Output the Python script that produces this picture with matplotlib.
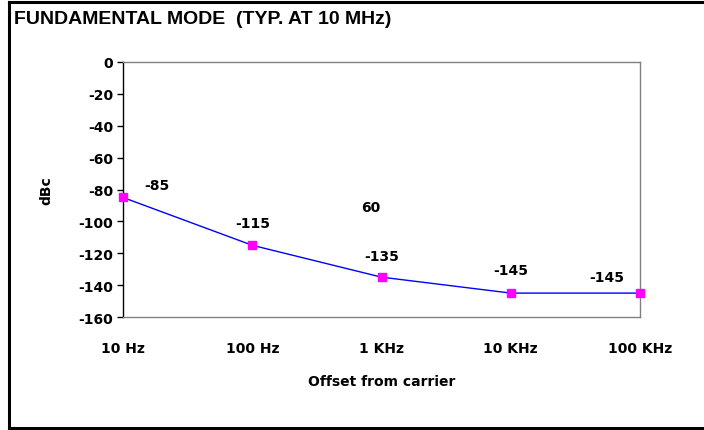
import matplotlib

matplotlib.use("Agg")
import matplotlib.pyplot as plt
from matplotlib.lines import Line2D

plt.rcParams["font.family"] = ["DejaVu Sans"]

offsets = ["10 Hz", "100 Hz", "1 KHz", "10 KHz", "100 KHz"]
dbc = [-85, -115, -135, -145, -145]
# label offsets in pixels (manually placed in the original)
label_dx = [34, 1, 0, 0, -33]
label_dy = [12, 22, 21, 23, 16]
y_ticks = list(range(0, -161, -20))

fig = plt.figure(figsize=(7.04, 4.31), dpi=100)
ax = fig.add_axes([123 / 704, 1 - 318 / 431, (640 - 123) / 704, (318 - 63) / 431])

xs = list(range(len(offsets)))
ax.plot(xs, dbc, color="#0000ff", linewidth=1.0, zorder=2)
ax.plot(xs, dbc, linestyle="none", marker="s", markersize=6,
        color="#ff00ff", zorder=3, clip_on=False)

for x, y, dx, dy in zip(xs, dbc, label_dx, label_dy):
    ax.annotate(str(y), (x, y), xytext=(dx * 0.72, dy * 0.72),
                textcoords="offset points", ha="center", va="center",
                fontsize=10, fontweight="bold")

# stray label left in the original sheet
ax.text(0.48, 0.43, "60", transform=ax.transAxes, ha="center", va="center",
        fontsize=10, fontweight="bold")

ax.set_xlim(0, len(offsets) - 1)
ax.set_ylim(-160, 0)
ax.set_xticks(xs)
ax.set_xticklabels(offsets, fontsize=10, fontweight="bold")
ax.set_yticks(y_ticks)
ax.set_yticklabels([str(t) for t in y_ticks], fontsize=10, fontweight="bold")
ax.tick_params(axis="x", length=0, pad=17)
ax.tick_params(axis="y", length=4, width=1, direction="out", pad=3)

for side in ["top", "right", "bottom"]:
    ax.spines[side].set_color("#808080")
    ax.spines[side].set_linewidth(1)
ax.spines["left"].set_color("black")
ax.spines["left"].set_linewidth(1)

ax.set_xlabel("Offset from carrier", fontsize=10, fontweight="bold", labelpad=14)
ax.set_ylabel("dBc", fontsize=10, fontweight="bold", labelpad=18)

fig.text(14 / 704, 1 - 19 / 431, "FUNDAMENTAL MODE  (TYP. AT 10 MHz)",
         fontsize=14, fontweight="bold", family=["Liberation Sans", "DejaVu Sans"],
         ha="left", va="center")

# outer frame
W, H = 704, 431
fig.add_artist(Line2D([9 / W, 9 / W], [1 - 3 / H, 1 - 429 / H],
                      transform=fig.transFigure, color="black", linewidth=2.2))
fig.add_artist(Line2D([9 / W, 1], [1 - 3 / H, 1 - 3 / H],
                      transform=fig.transFigure, color="black", linewidth=2.2))
fig.add_artist(Line2D([9 / W, 1], [1 - 429 / H, 1 - 429 / H],
                      transform=fig.transFigure, color="black", linewidth=2.2))

fig.savefig("out.png", dpi=100)
